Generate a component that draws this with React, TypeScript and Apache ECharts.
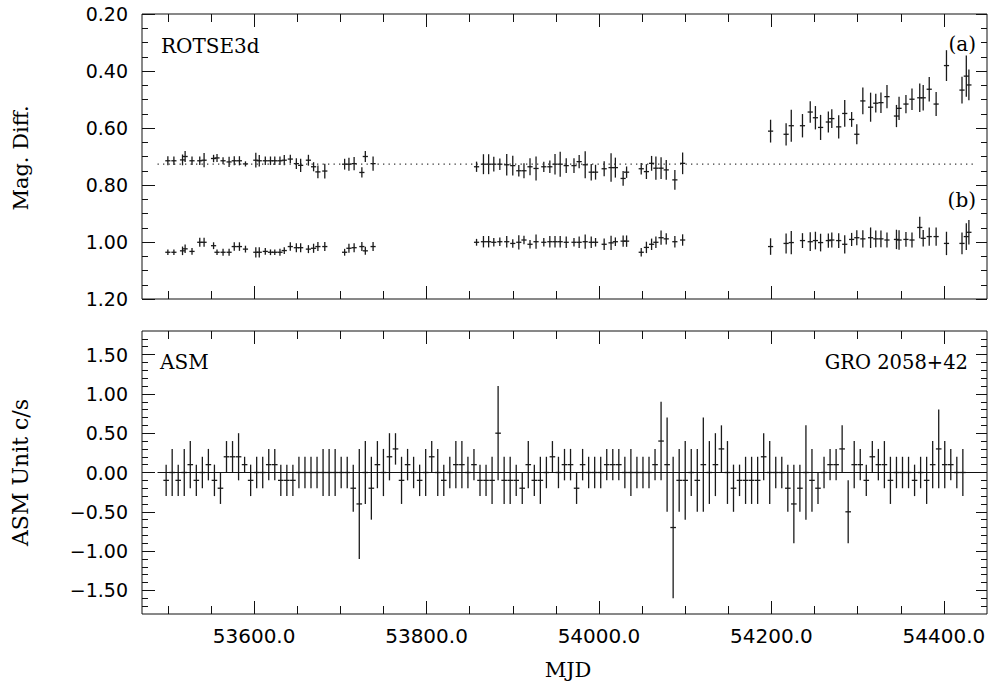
import React, { useEffect, useRef } from "react";
import * as echarts from "echarts";

// ---------- axis ranges and ticks ----------
const X_MIN = 53470;
const X_MAX = 54450;
const xMajorTicks = [53600, 53800, 54000, 54200, 54400];
const xMinorTicks = [53500, 53550, 53650, 53700, 53750, 53850, 53900, 53950, 54050, 54100, 54150, 54250, 54300, 54350];

const TOP_Y_MIN = 0.2;
const TOP_Y_MAX = 1.2;
const topYMajorTicks = [0.2, 0.4, 0.6, 0.8, 1.0, 1.2];
const topYMinorTicks = [0.25, 0.3, 0.35, 0.45, 0.5, 0.55, 0.65, 0.7, 0.75, 0.85, 0.9, 0.95, 1.05, 1.1, 1.15];

const BOT_Y_MIN = -1.8;
const BOT_Y_MAX = 1.8;
const botYMajorTicks = [-1.5, -1.0, -0.5, 0.0, 0.5, 1.0, 1.5];
const botYMinorTicks: number[] = [];
for (let i = -17; i <= 17; i++) if (i % 5 !== 0) botYMinorTicks.push(i / 10);

// ---------- ROTSE3d data ----------
const rotseMjd = [
  53500, 53507, 53517, 53520, 53528, 53537, 53542, 53553, 53557, 53564, 53571, 53577, 53583, 53590, 53602, 53606, 53613,
  53619, 53624, 53630, 53635, 53642, 53649, 53654, 53663, 53669, 53674, 53682, 53705, 53710, 53716, 53725, 53729, 53738,
  53858, 53866, 53872, 53878, 53885, 53893, 53900, 53907, 53913, 53920, 53927, 53936, 53943, 53949, 53955, 53962, 53971,
  53977, 53984, 53991, 53996, 54006, 54014, 54019, 54028, 54032, 54049, 54055, 54061, 54066, 54072, 54078, 54088, 54097,
  54199, 54217, 54223, 54236, 54245, 54251, 54257, 54266, 54270, 54278, 54285, 54293, 54299, 54306, 54315, 54321, 54327,
  54334, 54345, 54348, 54356, 54363, 54372, 54376, 54383, 54391, 54403, 54421, 54426, 54429,
];
const magA = [
  0.715, 0.715, 0.712, 0.7, 0.715, 0.715, 0.713, 0.707, 0.705, 0.715, 0.719, 0.715, 0.715, 0.726, 0.713, 0.715, 0.715,
  0.715, 0.715, 0.715, 0.713, 0.709, 0.725, 0.731, 0.713, 0.736, 0.754, 0.751, 0.727, 0.727, 0.725, 0.756, 0.7, 0.725,
  0.736, 0.727, 0.727, 0.727, 0.727, 0.729, 0.732, 0.75, 0.75, 0.736, 0.742, 0.736, 0.736, 0.727, 0.727, 0.732, 0.732,
  0.718, 0.729, 0.755, 0.755, 0.743, 0.739, 0.739, 0.777, 0.755, 0.743, 0.753, 0.724, 0.741, 0.741, 0.747, 0.782, 0.724,
  0.611, 0.622, 0.592, 0.592, 0.544, 0.564, 0.598, 0.579, 0.567, 0.596, 0.549, 0.57, 0.622, 0.505, 0.527, 0.513, 0.511,
  0.49, 0.558, 0.531, 0.516, 0.499, 0.494, 0.494, 0.464, 0.516, 0.381, 0.467, 0.418, 0.449,
];
const magAErr = [
  0.016, 0.015, 0.019, 0.019, 0.015, 0.015, 0.025, 0.013, 0.014, 0.012, 0.018, 0.016, 0.016, 0.009, 0.026, 0.02, 0.015,
  0.015, 0.015, 0.015, 0.018, 0.015, 0.019, 0.023, 0.019, 0.016, 0.022, 0.026, 0.019, 0.023, 0.023, 0.018, 0.019, 0.025,
  0.018, 0.035, 0.035, 0.026, 0.02, 0.038, 0.035, 0.02, 0.026, 0.03, 0.042, 0.018, 0.022, 0.036, 0.044, 0.026, 0.026,
  0.023, 0.047, 0.029, 0.026, 0.026, 0.05, 0.035, 0.026, 0.02, 0.02, 0.026, 0.026, 0.041, 0.038, 0.035, 0.035, 0.038,
  0.04, 0.039, 0.056, 0.041, 0.038, 0.041, 0.044, 0.037, 0.033, 0.041, 0.047, 0.026, 0.035, 0.047, 0.051, 0.033, 0.036,
  0.041, 0.039, 0.041, 0.032, 0.038, 0.05, 0.045, 0.043, 0.042, 0.054, 0.047, 0.072, 0.054,
];
const magB = [
  1.036, 1.036, 1.031, 1.024, 1.033, 1.001, 1.001, 1.013, 1.036, 1.036, 1.036, 1.016, 1.016, 1.025, 1.036, 1.036, 1.033,
  1.036, 1.036, 1.036, 1.03, 1.016, 1.02, 1.02, 1.025, 1.022, 1.016, 1.016, 1.036, 1.022, 1.02, 1.016, 1.031, 1.016,
  1.001, 0.999, 0.999, 1.001, 0.999, 0.999, 1.005, 1.001, 0.993, 1.008, 0.999, 1.001, 0.999, 0.999, 0.999, 1.001, 1.001,
  1.001, 0.999, 1.001, 1.001, 1.008, 1.003, 0.999, 0.997, 0.997, 1.036, 1.019, 1.008, 1.001, 0.985, 0.989, 0.999, 0.993,
  1.016, 1.005, 1.002, 0.995, 0.999, 0.995, 1.002, 0.995, 0.993, 0.995, 1.008, 0.991, 0.985, 0.989, 0.985, 0.989, 0.989,
  0.993, 0.991, 0.993, 0.991, 0.993, 0.949, 0.987, 0.981, 0.981, 1.005, 1.005, 0.981, 0.966,
];
const magBErr = [
  0.01, 0.01, 0.015, 0.015, 0.012, 0.016, 0.016, 0.012, 0.01, 0.012, 0.012, 0.015, 0.015, 0.012, 0.018, 0.018, 0.012,
  0.01, 0.01, 0.012, 0.012, 0.015, 0.016, 0.016, 0.014, 0.016, 0.016, 0.016, 0.012, 0.016, 0.016, 0.016, 0.014, 0.016,
  0.012, 0.02, 0.02, 0.015, 0.015, 0.02, 0.015, 0.025, 0.015, 0.015, 0.025, 0.015, 0.02, 0.02, 0.02, 0.02, 0.015,
  0.02, 0.025, 0.02, 0.015, 0.02, 0.025, 0.015, 0.02, 0.02, 0.015, 0.02, 0.02, 0.02, 0.025, 0.02, 0.02, 0.02,
  0.029, 0.035, 0.041, 0.026, 0.033, 0.031, 0.031, 0.025, 0.026, 0.026, 0.032, 0.023, 0.026, 0.03, 0.036, 0.029, 0.029,
  0.026, 0.034, 0.034, 0.026, 0.026, 0.038, 0.029, 0.032, 0.032, 0.041, 0.038, 0.047, 0.043,
];
const refLineMjd = [53488, 54438];
const refLineMag = [0.727, 0.727];

// ---------- RXTE ASM data (weekly) ----------
const asmMjd = [
  53498, 53505, 53512, 53519, 53526, 53533, 53540, 53547, 53554, 53561, 53568, 53575, 53582, 53589, 53596, 53603, 53610,
  53617, 53624, 53631, 53638, 53645, 53652, 53659, 53666, 53673, 53680, 53687, 53694, 53701, 53708, 53715, 53722, 53729,
  53736, 53743, 53750, 53757, 53764, 53771, 53778, 53785, 53792, 53799, 53806, 53813, 53820, 53827, 53834, 53841, 53848,
  53855, 53862, 53869, 53876, 53883, 53890, 53897, 53904, 53911, 53918, 53925, 53932, 53939, 53946, 53953, 53960, 53967,
  53974, 53981, 53988, 53995, 54002, 54009, 54016, 54023, 54030, 54037, 54044, 54051, 54058, 54065, 54072, 54079, 54086,
  54093, 54100, 54107, 54114, 54121, 54128, 54135, 54142, 54149, 54156, 54163, 54170, 54177, 54184, 54191, 54198, 54205,
  54212, 54219, 54226, 54233, 54240, 54247, 54254, 54261, 54268, 54275, 54282, 54289, 54296, 54303, 54310, 54317, 54324,
  54331, 54338, 54345, 54352, 54359, 54366, 54373, 54380, 54387, 54394, 54401, 54408, 54415, 54422,
];
const asmRate = [
  -0.1, 0, -0.1, 0, 0.1, -0.1, 0, 0.1, -0.1, -0.2, 0.2, 0.2, 0.2, 0.1, -0.1, 0, 0, 0.1, 0.1, -0.1, -0.1, -0.1, 0, 0, 0, 0,
  0, 0, 0, 0, 0, -0.2, -0.4, 0, -0.2, 0.1, 0, 0.2, 0.3, -0.1, 0.1, 0, -0.1, 0, 0.2, 0, -0.1, 0, 0.1, 0.1, 0, 0.1, -0.1,
  -0.1, -0.1, 0.5, -0.1, -0.1, -0.1, -0.2, 0.1, -0.1, -0.1, 0, 0.2, 0, 0.1, 0.1, -0.2, 0.1, 0, 0, 0, 0.1, 0.1, 0.1, 0, 0,
  0, 0, 0, 0.1, 0.4, 0.1, -0.7, -0.1, -0.1, 0, -0.1, 0.1, 0, 0.1, 0.3, 0, -0.2, -0.1, -0.1, -0.1, -0.1, 0.2, 0, 0, 0,
  -0.2, -0.4, -0.2, 0, -0.1, -0.2, 0, 0.1, 0.1, 0.3, -0.5, 0.1, 0.1, -0.1, 0.2, 0.1, 0.1, -0.1, 0, 0, 0, -0.1, 0, -0.1,
  0.1, 0.3, 0.1, 0.1, 0, 0,
];
const asmErr = [
  0.2, 0.3, 0.2, 0.3, 0.3, 0.2, 0.2, 0.2, 0.2, 0.2, 0.2, 0.2, 0.3, 0.1, 0.2, 0.2, 0.2, 0.2, 0.2, 0.2, 0.2, 0.2, 0.2, 0.2,
  0.2, 0.2, 0.3, 0.3, 0.3, 0.2, 0.2, 0.3, 0.7, 0.4, 0.4, 0.3, 0.3, 0.3, 0.2, 0.3, 0.2, 0.2, 0.2, 0.3, 0.2, 0.3, 0.2, 0.2,
  0.3, 0.3, 0.2, 0.2, 0.2, 0.2, 0.3, 0.6, 0.3, 0.3, 0.2, 0.2, 0.3, 0.2, 0.3, 0.2, 0.2, 0.2, 0.2, 0.2, 0.2, 0.2, 0.2, 0.2,
  0.2, 0.2, 0.2, 0.2, 0.2, 0.3, 0.2, 0.2, 0.2, 0.2, 0.5, 0.6, 0.9, 0.4, 0.5, 0.3, 0.4, 0.6, 0.4, 0.4, 0.3, 0.4, 0.3, 0.2,
  0.3, 0.3, 0.3, 0.3, 0.4, 0.2, 0.2, 0.3, 0.5, 0.3, 0.6, 0.4, 0.2, 0.2, 0.2, 0.2, 0.3, 0.4, 0.3, 0.2, 0.2, 0.2, 0.2, 0.3,
  0.3, 0.2, 0.2, 0.2, 0.2, 0.2, 0.3, 0.3, 0.5, 0.3, 0.2, 0.2, 0.3,
];
const zeroLineMjd = [53488, 54438];
const zeroLineRate = [0, 0];

// ---------- texts ----------
const topLeftLabel = "ROTSE3d";
const labelA = "(a)";
const labelB = "(b)";
const bottomLeftLabel = "ASM";
const bottomRightLabel = "GRO 2058+42";
const topYTitle = "Mag. Diff.";
const bottomYTitle = "ASM Unit c/s";
const xTitle = "MJD";

const SERIF = "DejaVu Serif";
const SANS = "DejaVu Sans";
const INK = "#111";

function xAxis(grid: number, position: string, ticks: number[], len: number, labels: boolean) {
  return {
    type: "value",
    gridIndex: grid,
    position,
    min: X_MIN,
    max: X_MAX,
    axisLine: { show: false, onZero: false },
    splitLine: { show: false },
    axisTick: { show: true, inside: true, length: len, customValues: ticks, lineStyle: { color: INK, width: 1 } },
    axisLabel: labels
      ? {
          show: true,
          customValues: xMajorTicks,
          margin: 12,
          color: "#000",
          fontFamily: SANS,
          fontSize: 20,
          formatter: (v: number) => v.toFixed(1),
        }
      : { show: false },
  };
}

function yAxis(
  grid: number,
  position: string,
  min: number,
  max: number,
  inverse: boolean,
  ticks: number[],
  len: number,
  labelValues: number[] | null
) {
  return {
    type: "value",
    gridIndex: grid,
    position,
    min,
    max,
    inverse,
    axisLine: { show: false, onZero: false },
    splitLine: { show: false },
    axisTick: { show: true, inside: true, length: len, customValues: ticks, lineStyle: { color: INK, width: 1 } },
    axisLabel: labelValues
      ? {
          show: true,
          customValues: labelValues,
          margin: 14,
          color: "#000",
          fontFamily: SANS,
          fontSize: 19,
          formatter: (v: number) => (v < -1e-9 ? "\u2212" + Math.abs(v).toFixed(2) : Math.abs(v).toFixed(2)),
        }
      : { show: false },
  };
}

const errRenderer = (half: number) => (_params: any, api: any) => {
  const x = api.value(0);
  const y = api.value(1);
  const e = api.value(2);
  const c = api.coord([x, y]);
  const lo = api.coord([x, y - e]);
  const hi = api.coord([x, y + e]);
  const style = { stroke: "#1a1a1a", lineWidth: 1.3 };
  return {
    type: "group",
    children: [
      { type: "line", shape: { x1: c[0], y1: lo[1], x2: c[0], y2: hi[1] }, style },
      { type: "line", shape: { x1: c[0] - half, y1: c[1], x2: c[0] + half, y2: c[1] }, style },
    ],
  };
};

function text(t: string, x: number, y: number, align: string, size: number, rotation = 0) {
  return {
    type: "text",
    x,
    y,
    rotation,
    silent: true,
    style: { text: t, fill: "#000", fontFamily: SERIF, fontSize: size, align, verticalAlign: "middle" },
  };
}

export default function App() {
  const ref = useRef<HTMLDivElement>(null);

  useEffect(() => {
    if (!ref.current) return;
    const chart = echarts.init(ref.current, undefined, { renderer: "svg" });

    const aData = rotseMjd.map((m, i) => [m, magA[i], magAErr[i]]);
    const bData = rotseMjd.map((m, i) => [m, magB[i], magBErr[i]]);
    const asmData = asmMjd.map((m, i) => [m, asmRate[i], asmErr[i]]);

    const option: any = {
      animation: false,
      backgroundColor: "#fff",
      grid: [
        { left: 142, top: 14, width: 845, height: 285, show: true, borderColor: INK, borderWidth: 1, backgroundColor: "transparent" },
        { left: 142, top: 331, width: 845, height: 283, show: true, borderColor: INK, borderWidth: 1, backgroundColor: "transparent" },
      ],
      xAxis: [
        xAxis(0, "bottom", xMajorTicks, 13, false),
        xAxis(0, "bottom", xMinorTicks, 8, false),
        xAxis(0, "top", xMajorTicks, 13, false),
        xAxis(0, "top", xMinorTicks, 8, false),
        xAxis(1, "bottom", xMajorTicks, 13, true),
        xAxis(1, "bottom", xMinorTicks, 8, false),
        xAxis(1, "top", xMajorTicks, 13, false),
        xAxis(1, "top", xMinorTicks, 8, false),
      ],
      yAxis: [
        yAxis(0, "left", TOP_Y_MIN, TOP_Y_MAX, true, topYMajorTicks, 13, topYMajorTicks),
        yAxis(0, "left", TOP_Y_MIN, TOP_Y_MAX, true, topYMinorTicks, 6, null),
        yAxis(0, "right", TOP_Y_MIN, TOP_Y_MAX, true, topYMajorTicks, 11, null),
        yAxis(0, "right", TOP_Y_MIN, TOP_Y_MAX, true, topYMinorTicks, 6, null),
        yAxis(1, "left", BOT_Y_MIN, BOT_Y_MAX, false, botYMajorTicks, 13, botYMajorTicks),
        yAxis(1, "left", BOT_Y_MIN, BOT_Y_MAX, false, botYMinorTicks, 6, null),
        yAxis(1, "right", BOT_Y_MIN, BOT_Y_MAX, false, botYMajorTicks, 11, null),
        yAxis(1, "right", BOT_Y_MIN, BOT_Y_MAX, false, botYMinorTicks, 6, null),
      ],
      series: [
        {
          name: "reference",
          type: "line",
          xAxisIndex: 0,
          yAxisIndex: 0,
          data: refLineMjd.map((m, i) => [m, refLineMag[i]]),
          symbol: "none",
          silent: true,
          lineStyle: { color: "#333", width: 1.3, type: [1.3, 4.2] },
        },
        {
          name: "(a)",
          type: "custom",
          xAxisIndex: 0,
          yAxisIndex: 0,
          clip: true,
          encode: { x: 0, y: 1 },
          data: aData,
          renderItem: errRenderer(2.6),
        },
        {
          name: "(b)",
          type: "custom",
          xAxisIndex: 0,
          yAxisIndex: 0,
          clip: true,
          encode: { x: 0, y: 1 },
          data: bData,
          renderItem: errRenderer(2.6),
        },
        {
          name: "zero",
          type: "line",
          xAxisIndex: 4,
          yAxisIndex: 4,
          data: zeroLineMjd.map((m, i) => [m, zeroLineRate[i]]),
          symbol: "none",
          silent: true,
          lineStyle: { color: INK, width: 1.2 },
        },
        {
          name: "ASM",
          type: "custom",
          xAxisIndex: 4,
          yAxisIndex: 4,
          clip: true,
          encode: { x: 0, y: 1 },
          data: asmData,
          renderItem: errRenderer(2.8),
        },
      ],
      graphic: {
        elements: [
          text(topLeftLabel, 161, 45.5, "left", 20),
          text(labelA, 976, 43.5, "right", 20),
          text(labelB, 976, 200, "right", 20),
          text(bottomLeftLabel, 160, 361.5, "left", 20),
          text(bottomRightLabel, 968, 362, "right", 19.5),
          text(topYTitle, 21, 158, "center", 21, Math.PI / 2),
          text(bottomYTitle, 20, 472.5, "center", 22, Math.PI / 2),
          text(xTitle, 568, 670, "center", 21),
        ],
      },
    };

    chart.setOption(option);
    return () => chart.dispose();
  }, []);

  return (
    <div
      ref={ref}
      style={{ position: "absolute", left: 0, top: 0, width: 993, height: 684, background: "#fff" }}
    />
  );
}
